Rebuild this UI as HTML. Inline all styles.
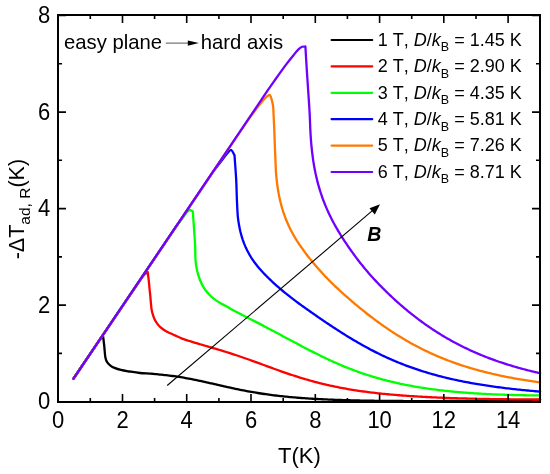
<!DOCTYPE html>
<html><head><meta charset="utf-8"><style>
html,body{margin:0;padding:0;background:#fff;}
svg{display:block;will-change:transform;}
text{font-family:"Liberation Sans",sans-serif;fill:#000;font-kerning:none;}
</style></head><body>
<svg width="550" height="474" viewBox="0 0 550 474">
<rect width="550" height="474" fill="#fff"/>
<path d="M73.50 378.60 C82.67 365.00 91.62 351.19 101.00 337.79 C101.49 337.09 102.40 336.80 103.10 336.30 C103.50 339.70 103.93 343.10 104.30 346.50 C104.70 350.16 104.72 353.91 105.40 357.50 C105.72 359.21 106.38 360.96 107.30 362.40 C108.14 363.72 109.44 364.84 110.70 365.80 C111.84 366.67 113.17 367.36 114.50 367.90 C116.53 368.72 118.66 369.39 120.80 369.90 C123.69 370.59 126.66 371.02 129.60 371.50 C133.06 372.06 136.52 372.65 140.00 373.00 C143.37 373.34 146.76 373.36 150.14 373.57 C150.68 373.61 151.21 373.69 151.75 373.74 C152.28 373.80 152.82 373.86 153.35 373.91 L154.96 374.07 L156.57 374.23 L158.18 374.39 L159.78 374.55 L161.39 374.71 L163.00 374.88 L164.60 375.05 L166.21 375.22 L167.82 375.41 L169.42 375.60 L171.03 375.80 L172.64 376.01 L174.24 376.23 L175.85 376.45 L177.46 376.69 L179.06 376.94 L180.67 377.20 L182.28 377.46 L183.88 377.74 L185.49 378.03 L187.10 378.32 L188.70 378.62 L190.31 378.93 L191.92 379.24 L193.52 379.56 L195.13 379.88 L196.74 380.21 L198.35 380.55 L199.95 380.88 L201.56 381.23 L203.17 381.58 L204.77 381.93 L206.38 382.29 L207.99 382.65 L209.59 383.01 L211.20 383.37 L212.81 383.74 L214.41 384.10 L216.02 384.47 L217.63 384.84 L219.23 385.21 L220.84 385.57 L222.45 385.94 L224.05 386.30 L225.66 386.67 L227.27 387.03 L228.87 387.38 L230.48 387.74 L232.09 388.09 L233.69 388.43 L235.30 388.78 L236.91 389.11 L238.52 389.45 L240.12 389.77 L241.73 390.10 L243.34 390.41 L244.94 390.73 L246.55 391.03 L248.16 391.33 L249.76 391.63 L251.37 391.91 L252.98 392.20 L254.58 392.47 L256.19 392.74 L257.80 393.00 L259.40 393.26 L261.01 393.51 L262.62 393.76 L264.22 394.00 L265.83 394.23 L267.44 394.46 L269.04 394.68 L270.65 394.89 L272.26 395.10 L273.86 395.30 L275.47 395.50 L277.08 395.69 L278.69 395.88 L280.29 396.06 L281.90 396.23 L283.51 396.41 L285.11 396.57 L286.72 396.73 L288.33 396.89 L289.93 397.04 L291.54 397.19 L293.15 397.33 L294.75 397.47 L296.36 397.60 L297.97 397.73 L299.57 397.86 L301.18 397.98 L302.79 398.10 L304.39 398.21 L306.00 398.32 L307.61 398.43 L309.21 398.53 L310.82 398.63 L312.43 398.73 L314.03 398.82 L315.64 398.91 L317.25 399.00 L318.86 399.09 L320.46 399.17 L322.07 399.25 L323.68 399.33 L325.28 399.40 L326.89 399.47 L328.50 399.54 L330.10 399.61 L331.71 399.68 L333.32 399.74 L334.92 399.80 L336.53 399.86 L338.14 399.92 L339.74 399.97 L341.35 400.02 L342.96 400.07 L344.56 400.12 L346.17 400.17 L347.78 400.22 L349.38 400.26 L350.99 400.30 L352.60 400.34 L354.20 400.38 L355.81 400.42 L357.42 400.46 L359.03 400.49 L360.63 400.53 L362.24 400.56 L363.85 400.59 L365.45 400.62 L367.06 400.65 L368.67 400.68 L370.27 400.70 L371.88 400.73 L373.49 400.75 L375.09 400.78 L376.70 400.80 L378.31 400.82 L379.91 400.84 L381.52 400.86 L383.13 400.87 L384.73 400.89 L386.34 400.91 L387.95 400.92 L389.55 400.94 L391.16 400.95 L392.77 400.96 L394.37 400.98 L395.98 400.99 L397.59 401.00 L399.20 401.01 L400.80 401.02 L402.41 401.02 L404.02 401.03 L405.62 401.04 L407.23 401.04 L408.84 401.05 L410.44 401.05 L412.05 401.06 L413.66 401.06 L415.26 401.06 L416.87 401.07 L418.48 401.07 L420.08 401.07 L421.69 401.07 L423.30 401.07 L424.90 401.07 L426.51 401.07 L428.12 401.07 L429.72 401.06 L431.33 401.06 L432.94 401.06 L434.54 401.06 L436.15 401.05 L437.76 401.05 L439.37 401.04 L440.97 401.04 L442.58 401.03 L444.19 401.02 L445.79 401.02 L447.40 401.01 L449.01 401.00 L450.61 400.99 L452.22 400.98 L453.83 400.98 L455.43 400.97 L457.04 400.96 L458.65 400.95 L460.25 400.93 L461.86 400.92 L463.47 400.91 L465.07 400.90 L466.68 400.89 L468.29 400.88 L469.89 400.86 L471.50 400.85 L473.11 400.84 L474.71 400.82 L476.32 400.81 L477.93 400.79 L479.54 400.78 L481.14 400.76 L482.75 400.75 L484.36 400.73 L485.96 400.71 L487.57 400.70 L489.18 400.68 L490.78 400.66 L492.39 400.65 L494.00 400.63 L495.60 400.61 L497.21 400.59 L498.82 400.57 L500.42 400.55 L502.03 400.53 L503.64 400.51 L505.24 400.49 L506.85 400.47 L508.46 400.45 L510.06 400.43 L511.67 400.41 L513.28 400.39 L514.88 400.37 L516.49 400.34 L518.10 400.32 L519.71 400.30 L521.31 400.28 L522.92 400.25 L524.53 400.23 L526.13 400.21 L527.74 400.18 L529.35 400.16 L530.95 400.13 L532.56 400.11 L534.17 400.08 L535.77 400.06 L537.38 400.03 L538.99 400.01 L540.11 399.99" stroke="#000000" stroke-width="2.3" fill="none" stroke-linejoin="round" stroke-linecap="round"/>
<path d="M73.50 378.60 C95.67 345.84 117.71 312.99 140.00 280.31 C141.38 278.29 142.85 276.29 144.50 274.50 C145.41 273.51 146.63 272.83 147.70 272.00 C148.03 274.67 148.41 277.33 148.70 280.00 C149.01 282.80 149.22 285.60 149.50 288.40 C149.75 290.93 150.06 293.46 150.30 296.00 C150.59 299.03 150.80 302.07 151.10 305.10 C151.27 306.77 151.39 308.45 151.70 310.10 C152.02 311.82 152.46 313.53 153.00 315.20 C153.46 316.63 154.03 318.05 154.70 319.40 C155.43 320.85 156.24 322.29 157.20 323.60 C158.20 324.96 159.34 326.28 160.60 327.40 C162.00 328.65 163.59 329.72 165.20 330.70 C166.83 331.69 168.58 332.48 170.30 333.30 C171.85 334.04 173.43 334.70 175.00 335.40 C177.37 336.46 179.73 337.56 182.12 338.59 C182.59 338.79 183.08 338.93 183.56 339.10 C184.04 339.27 184.53 339.43 185.01 339.60 L186.45 340.08 L187.90 340.55 L189.35 341.02 L190.79 341.47 L192.24 341.91 L193.69 342.35 L195.13 342.79 L196.58 343.22 L198.02 343.64 L199.47 344.07 L200.92 344.49 L202.36 344.91 L203.81 345.33 L205.25 345.75 L206.70 346.17 L208.15 346.59 L209.59 347.01 L211.04 347.43 L212.48 347.85 L213.93 348.28 L215.38 348.70 L216.82 349.13 L218.27 349.56 L219.72 350.00 L221.16 350.44 L222.61 350.88 L224.05 351.32 L225.50 351.77 L226.95 352.23 L228.39 352.68 L229.84 353.15 L231.28 353.61 L232.73 354.08 L234.18 354.56 L235.62 355.03 L237.07 355.52 L238.52 356.00 L239.96 356.49 L241.41 356.99 L242.85 357.49 L244.30 357.99 L245.75 358.49 L247.19 359.00 L248.64 359.51 L250.08 360.03 L251.53 360.55 L252.98 361.07 L254.42 361.59 L255.87 362.11 L257.31 362.64 L258.76 363.17 L260.21 363.70 L261.65 364.23 L263.10 364.76 L264.55 365.29 L265.99 365.82 L267.44 366.35 L268.88 366.88 L270.33 367.40 L271.78 367.93 L273.22 368.46 L274.67 368.98 L276.11 369.50 L277.56 370.02 L279.01 370.54 L280.45 371.05 L281.90 371.56 L283.34 372.07 L284.79 372.57 L286.24 373.07 L287.68 373.56 L289.13 374.05 L290.58 374.54 L292.02 375.02 L293.47 375.49 L294.91 375.96 L296.36 376.43 L297.81 376.89 L299.25 377.34 L300.70 377.79 L302.14 378.23 L303.59 378.67 L305.04 379.10 L306.48 379.52 L307.93 379.94 L309.37 380.35 L310.82 380.76 L312.27 381.16 L313.87 381.59 L315.48 382.02 L317.09 382.44 L318.69 382.86 L320.30 383.26 L321.91 383.66 L323.51 384.05 L325.12 384.43 L326.73 384.80 L328.34 385.17 L329.94 385.53 L331.55 385.88 L333.16 386.23 L334.76 386.56 L336.37 386.89 L337.98 387.22 L339.58 387.53 L341.19 387.84 L342.80 388.14 L344.40 388.44 L346.01 388.73 L347.62 389.01 L349.22 389.28 L350.83 389.55 L352.44 389.82 L354.04 390.07 L355.65 390.32 L357.26 390.57 L358.86 390.81 L360.47 391.04 L362.08 391.27 L363.68 391.49 L365.29 391.71 L366.90 391.92 L368.51 392.13 L370.11 392.33 L371.72 392.53 L373.33 392.72 L374.93 392.91 L376.54 393.09 L378.15 393.27 L379.75 393.45 L381.36 393.62 L382.97 393.78 L384.57 393.95 L386.18 394.10 L387.79 394.26 L389.39 394.41 L391.00 394.56 L392.61 394.70 L394.21 394.84 L395.82 394.97 L397.43 395.11 L399.03 395.24 L400.64 395.36 L402.25 395.49 L403.85 395.61 L405.46 395.72 L407.07 395.84 L408.68 395.95 L410.28 396.06 L411.89 396.16 L413.50 396.27 L415.10 396.37 L416.71 396.46 L418.32 396.56 L419.92 396.65 L421.53 396.74 L423.14 396.83 L424.74 396.92 L426.35 397.00 L427.96 397.08 L429.56 397.16 L431.17 397.24 L432.78 397.32 L434.38 397.39 L435.99 397.46 L437.60 397.53 L439.20 397.60 L440.81 397.67 L442.42 397.73 L444.02 397.79 L445.63 397.85 L447.24 397.91 L448.85 397.97 L450.45 398.03 L452.06 398.08 L453.67 398.14 L455.27 398.19 L456.88 398.24 L458.49 398.29 L460.09 398.34 L461.70 398.38 L463.31 398.43 L464.91 398.47 L466.52 398.51 L468.13 398.56 L469.73 398.60 L471.34 398.64 L472.95 398.67 L474.55 398.71 L476.16 398.75 L477.77 398.78 L479.37 398.82 L480.98 398.85 L482.59 398.88 L484.19 398.91 L485.80 398.94 L487.41 398.97 L489.02 399.00 L490.62 399.03 L492.23 399.05 L493.84 399.08 L495.44 399.10 L497.05 399.13 L498.66 399.15 L500.26 399.17 L501.87 399.19 L503.48 399.21 L505.08 399.23 L506.69 399.25 L508.30 399.27 L509.90 399.29 L511.51 399.31 L513.12 399.32 L514.72 399.34 L516.33 399.36 L517.94 399.37 L519.54 399.38 L521.15 399.40 L522.76 399.41 L524.36 399.42 L525.97 399.43 L527.58 399.45 L529.19 399.46 L530.79 399.47 L532.40 399.48 L534.01 399.49 L535.61 399.49 L537.22 399.50 L538.83 399.51 L540.11 399.52" stroke="#ff0000" stroke-width="2.3" fill="none" stroke-linejoin="round" stroke-linecap="round"/>
<path d="M73.50 378.60 C107.67 327.90 141.65 277.06 176.00 226.49 C177.79 223.86 179.97 221.53 181.90 219.00 C183.61 216.76 185.10 214.34 186.90 212.20 C187.63 211.34 188.54 210.13 189.50 210.00 C190.51 209.86 191.70 210.93 192.80 211.40 C193.57 222.60 194.47 233.79 195.10 245.00 C195.34 249.23 195.19 253.47 195.40 257.70 C195.53 260.24 195.73 262.79 196.10 265.30 C196.46 267.75 196.96 270.20 197.60 272.60 C198.29 275.17 199.08 277.74 200.10 280.20 C201.15 282.74 202.34 285.28 203.80 287.60 C205.27 289.94 207.01 292.18 208.90 294.20 C210.84 296.28 213.04 298.17 215.30 299.90 C217.24 301.37 219.39 302.58 221.50 303.80 C223.64 305.03 225.89 306.08 228.07 307.26 C228.51 307.49 228.93 307.78 229.36 308.04 C229.84 308.33 230.32 308.61 230.80 308.90 L232.25 309.72 L233.69 310.53 L235.14 311.32 L236.59 312.09 L238.03 312.84 L239.48 313.59 L240.93 314.33 L242.37 315.06 L243.82 315.79 L245.26 316.52 L246.71 317.24 L248.16 317.97 L249.60 318.70 L251.05 319.43 L252.49 320.16 L253.94 320.89 L255.39 321.63 L256.83 322.38 L258.28 323.12 L259.72 323.88 L261.17 324.63 L262.62 325.39 L264.06 326.16 L265.51 326.92 L266.96 327.69 L268.40 328.45 L269.85 329.22 L271.29 329.98 L272.74 330.75 L274.19 331.52 L275.63 332.28 L277.08 333.05 L278.52 333.82 L279.97 334.59 L281.42 335.37 L282.86 336.14 L284.31 336.91 L285.76 337.68 L287.20 338.45 L288.65 339.23 L290.09 340.00 L291.54 340.77 L292.99 341.54 L294.43 342.31 L295.88 343.08 L297.32 343.85 L298.77 344.61 L300.22 345.37 L301.66 346.14 L303.11 346.90 L304.55 347.65 L306.00 348.41 L307.45 349.16 L308.89 349.90 L310.34 350.65 L311.79 351.38 L313.23 352.12 L314.68 352.85 L316.12 353.58 L317.57 354.30 L319.02 355.01 L320.46 355.72 L321.91 356.43 L323.35 357.13 L324.80 357.82 L326.25 358.51 L327.69 359.19 L329.14 359.86 L330.58 360.53 L332.03 361.19 L333.48 361.84 L334.92 362.49 L336.37 363.13 L337.82 363.76 L339.26 364.39 L340.71 365.00 L342.15 365.61 L343.60 366.22 L345.05 366.81 L346.49 367.40 L347.94 367.97 L349.38 368.54 L350.83 369.11 L352.28 369.66 L353.72 370.21 L355.17 370.75 L356.61 371.28 L358.06 371.80 L359.51 372.31 L360.95 372.82 L362.40 373.32 L363.85 373.81 L365.29 374.29 L366.74 374.77 L368.18 375.24 L369.63 375.70 L371.08 376.15 L372.52 376.59 L373.97 377.03 L375.41 377.46 L376.86 377.88 L378.31 378.29 L379.75 378.70 L381.20 379.10 L382.81 379.54 L384.41 379.96 L386.02 380.38 L387.63 380.79 L389.23 381.19 L390.84 381.58 L392.45 381.97 L394.05 382.35 L395.66 382.72 L397.27 383.08 L398.87 383.43 L400.48 383.78 L402.09 384.11 L403.69 384.44 L405.30 384.77 L406.91 385.08 L408.51 385.39 L410.12 385.70 L411.73 385.99 L413.33 386.28 L414.94 386.56 L416.55 386.84 L418.16 387.11 L419.76 387.37 L421.37 387.63 L422.98 387.88 L424.58 388.12 L426.19 388.36 L427.80 388.60 L429.40 388.83 L431.01 389.05 L432.62 389.27 L434.22 389.48 L435.83 389.68 L437.44 389.89 L439.04 390.08 L440.65 390.27 L442.26 390.46 L443.86 390.64 L445.47 390.82 L447.08 390.99 L448.68 391.16 L450.29 391.33 L451.90 391.49 L453.50 391.64 L455.11 391.79 L456.72 391.94 L458.33 392.08 L459.93 392.22 L461.54 392.36 L463.15 392.49 L464.75 392.62 L466.36 392.74 L467.97 392.86 L469.57 392.98 L471.18 393.09 L472.79 393.20 L474.39 393.31 L476.00 393.41 L477.61 393.51 L479.21 393.61 L480.82 393.70 L482.43 393.79 L484.03 393.88 L485.64 393.97 L487.25 394.05 L488.85 394.13 L490.46 394.20 L492.07 394.28 L493.67 394.35 L495.28 394.42 L496.89 394.48 L498.50 394.55 L500.10 394.61 L501.71 394.67 L503.32 394.72 L504.92 394.77 L506.53 394.82 L508.14 394.87 L509.74 394.92 L511.35 394.96 L512.96 395.01 L514.56 395.05 L516.17 395.08 L517.78 395.12 L519.38 395.15 L520.99 395.18 L522.60 395.21 L524.20 395.24 L525.81 395.26 L527.42 395.29 L529.02 395.31 L530.63 395.33 L532.24 395.35 L533.84 395.36 L535.45 395.38 L537.06 395.39 L538.67 395.40 L540.11 395.41" stroke="#00ff00" stroke-width="2.3" fill="none" stroke-linejoin="round" stroke-linecap="round"/>
<path d="M73.50 378.60 C119.67 310.19 165.78 241.74 212.00 173.37 C212.98 171.91 214.04 170.50 215.10 169.10 C217.34 166.15 219.63 163.23 221.90 160.30 C223.86 157.76 225.66 155.07 227.80 152.70 C228.76 151.63 230.28 149.66 231.20 150.00 C232.51 150.49 233.40 153.47 234.50 155.20 C235.07 163.47 235.76 171.73 236.20 180.00 C236.56 186.66 236.62 193.34 236.90 200.00 C237.12 205.22 237.39 210.44 237.71 215.66 C237.77 216.58 237.92 217.49 238.03 218.40 C238.13 219.19 238.25 219.99 238.35 220.78 L238.68 222.90 L239.00 224.81 L239.32 226.56 L239.64 228.18 L239.96 229.68 L240.44 231.76 L240.93 233.67 L241.41 235.43 L241.89 237.07 L242.37 238.60 L242.85 240.05 L243.50 241.86 L244.14 243.56 L244.78 245.15 L245.42 246.65 L246.07 248.08 L246.71 249.44 L247.51 251.05 L248.32 252.58 L249.12 254.03 L249.92 255.42 L250.73 256.75 L251.53 258.02 L252.49 259.49 L253.46 260.90 L254.42 262.25 L255.39 263.55 L256.35 264.80 L257.31 266.02 L258.28 267.20 L259.40 268.53 L260.53 269.82 L261.65 271.07 L262.78 272.29 L263.90 273.48 L265.03 274.65 L266.15 275.79 L267.28 276.92 L268.40 278.03 L269.53 279.12 L270.65 280.20 L271.78 281.26 L272.90 282.30 L274.03 283.33 L275.15 284.35 L276.27 285.36 L277.40 286.35 L278.69 287.47 L279.97 288.58 L281.26 289.67 L282.54 290.75 L283.83 291.82 L285.11 292.87 L286.40 293.91 L287.68 294.94 L288.97 295.96 L290.25 296.96 L291.54 297.96 L292.82 298.94 L294.11 299.91 L295.40 300.87 L296.68 301.82 L297.97 302.76 L299.25 303.70 L300.54 304.63 L301.82 305.56 L303.11 306.49 L304.39 307.41 L305.68 308.33 L306.96 309.24 L308.25 310.16 L309.54 311.06 L310.82 311.97 L312.11 312.87 L313.39 313.77 L314.68 314.67 L315.96 315.56 L317.25 316.45 L318.53 317.34 L319.82 318.23 L321.10 319.11 L322.39 319.99 L323.68 320.86 L324.96 321.73 L326.25 322.60 L327.53 323.46 L328.82 324.32 L330.10 325.18 L331.39 326.03 L332.67 326.88 L333.96 327.73 L335.24 328.57 L336.53 329.40 L337.82 330.24 L339.10 331.06 L340.39 331.88 L341.67 332.70 L342.96 333.51 L344.24 334.32 L345.53 335.12 L346.81 335.92 L348.10 336.71 L349.38 337.49 L350.67 338.27 L351.96 339.05 L353.40 339.91 L354.85 340.77 L356.29 341.61 L357.74 342.45 L359.19 343.28 L360.63 344.11 L362.08 344.92 L363.52 345.73 L364.97 346.53 L366.42 347.32 L367.86 348.10 L369.31 348.87 L370.75 349.64 L372.20 350.39 L373.65 351.14 L375.09 351.88 L376.54 352.60 L377.99 353.32 L379.43 354.03 L380.88 354.74 L382.32 355.43 L383.77 356.11 L385.22 356.79 L386.66 357.45 L388.11 358.11 L389.55 358.76 L391.00 359.40 L392.45 360.03 L393.89 360.65 L395.34 361.26 L396.78 361.86 L398.23 362.46 L399.68 363.05 L401.12 363.62 L402.57 364.19 L404.02 364.75 L405.46 365.31 L406.91 365.85 L408.35 366.39 L409.80 366.91 L411.25 367.43 L412.69 367.95 L414.14 368.45 L415.58 368.95 L417.03 369.43 L418.48 369.92 L419.92 370.39 L421.37 370.85 L422.82 371.31 L424.26 371.76 L425.71 372.21 L427.15 372.64 L428.60 373.07 L430.05 373.50 L431.49 373.91 L432.94 374.32 L434.38 374.72 L435.99 375.16 L437.60 375.60 L439.20 376.02 L440.81 376.44 L442.42 376.84 L444.02 377.25 L445.63 377.64 L447.24 378.03 L448.85 378.41 L450.45 378.78 L452.06 379.14 L453.67 379.50 L455.27 379.85 L456.88 380.20 L458.49 380.54 L460.09 380.87 L461.70 381.20 L463.31 381.52 L464.91 381.84 L466.52 382.15 L468.13 382.45 L469.73 382.75 L471.34 383.04 L472.95 383.33 L474.55 383.61 L476.16 383.89 L477.77 384.16 L479.37 384.42 L480.98 384.68 L482.59 384.94 L484.19 385.19 L485.80 385.44 L487.41 385.68 L489.02 385.92 L490.62 386.16 L492.23 386.38 L493.84 386.61 L495.44 386.83 L497.05 387.05 L498.66 387.26 L500.26 387.47 L501.87 387.68 L503.48 387.88 L505.08 388.08 L506.69 388.27 L508.30 388.46 L509.90 388.65 L511.51 388.83 L513.12 389.02 L514.72 389.19 L516.33 389.37 L517.94 389.54 L519.54 389.71 L521.15 389.87 L522.76 390.03 L524.36 390.19 L525.97 390.35 L527.58 390.50 L529.19 390.65 L530.79 390.80 L532.40 390.95 L534.01 391.09 L535.61 391.23 L537.22 391.37 L538.83 391.51 L540.11 391.61" stroke="#0000ff" stroke-width="2.3" fill="none" stroke-linejoin="round" stroke-linecap="round"/>
<path d="M73.50 378.60 C131.67 292.45 189.67 206.18 248.00 120.14 C250.87 115.91 254.00 111.87 257.10 107.80 C258.94 105.39 260.83 103.01 262.80 100.70 C263.96 99.34 265.12 97.91 266.50 96.80 C267.49 96.01 269.24 94.40 269.90 95.00 C271.18 96.17 271.63 99.70 272.30 102.10 C272.73 103.63 272.90 105.23 273.20 106.80 C273.57 114.53 273.98 122.26 274.30 130.00 C274.58 136.66 274.74 143.33 275.00 150.00 C275.29 157.37 275.61 164.74 275.95 172.11 C275.98 172.77 276.06 173.44 276.11 174.10 C276.17 174.71 276.22 175.32 276.27 175.93 L276.44 177.62 L276.60 179.19 L276.92 182.04 L277.24 184.60 L277.56 186.92 L277.88 189.05 L278.20 191.02 L278.52 192.86 L278.85 194.59 L279.17 196.22 L279.49 197.77 L279.81 199.24 L280.29 201.32 L280.77 203.27 L281.26 205.12 L281.74 206.86 L282.22 208.52 L282.70 210.11 L283.18 211.62 L283.67 213.08 L284.31 214.93 L284.95 216.70 L285.59 218.39 L286.24 220.01 L286.88 221.56 L287.52 223.06 L288.17 224.51 L288.81 225.91 L289.45 227.27 L290.25 228.91 L291.06 230.49 L291.86 232.02 L292.66 233.51 L293.47 234.95 L294.27 236.35 L295.07 237.71 L295.88 239.04 L296.68 240.33 L297.48 241.60 L298.45 243.09 L299.41 244.53 L300.38 245.95 L301.34 247.33 L302.31 248.70 L303.27 250.04 L304.23 251.36 L305.20 252.66 L306.16 253.94 L307.13 255.20 L308.09 256.45 L309.05 257.68 L310.02 258.89 L310.98 260.09 L311.95 261.28 L312.91 262.45 L313.87 263.60 L315.00 264.94 L316.12 266.25 L317.25 267.55 L318.37 268.84 L319.50 270.10 L320.62 271.35 L321.75 272.59 L322.87 273.81 L324.00 275.02 L325.12 276.21 L326.25 277.39 L327.37 278.55 L328.50 279.70 L329.62 280.83 L330.75 281.95 L331.87 283.06 L332.99 284.16 L334.12 285.24 L335.24 286.31 L336.37 287.37 L337.49 288.42 L338.62 289.46 L339.74 290.50 L340.87 291.53 L341.99 292.56 L343.12 293.57 L344.24 294.58 L345.37 295.59 L346.49 296.59 L347.78 297.72 L349.06 298.84 L350.35 299.96 L351.63 301.07 L352.92 302.17 L354.20 303.26 L355.49 304.34 L356.78 305.42 L358.06 306.49 L359.35 307.55 L360.63 308.60 L361.92 309.64 L363.20 310.68 L364.49 311.71 L365.77 312.73 L367.06 313.74 L368.34 314.74 L369.63 315.74 L370.92 316.72 L372.20 317.70 L373.49 318.67 L374.77 319.63 L376.06 320.59 L377.34 321.53 L378.63 322.47 L379.91 323.40 L381.20 324.32 L382.48 325.23 L383.77 326.13 L385.06 327.02 L386.34 327.91 L387.63 328.78 L388.91 329.65 L390.20 330.51 L391.48 331.36 L392.77 332.20 L394.05 333.04 L395.34 333.86 L396.62 334.67 L397.91 335.48 L399.20 336.28 L400.48 337.07 L401.77 337.85 L403.21 338.72 L404.66 339.57 L406.10 340.42 L407.55 341.25 L409.00 342.08 L410.44 342.89 L411.89 343.69 L413.33 344.48 L414.78 345.26 L416.23 346.03 L417.67 346.79 L419.12 347.54 L420.57 348.28 L422.01 349.01 L423.46 349.73 L424.90 350.44 L426.35 351.13 L427.80 351.82 L429.24 352.50 L430.69 353.17 L432.13 353.83 L433.58 354.47 L435.03 355.11 L436.47 355.74 L437.92 356.36 L439.37 356.97 L440.81 357.57 L442.26 358.17 L443.70 358.75 L445.15 359.32 L446.60 359.89 L448.04 360.45 L449.49 361.00 L450.93 361.54 L452.38 362.07 L453.83 362.59 L455.27 363.11 L456.72 363.61 L458.16 364.11 L459.61 364.60 L461.06 365.09 L462.50 365.56 L463.95 366.03 L465.40 366.49 L466.84 366.94 L468.29 367.39 L469.73 367.83 L471.18 368.26 L472.63 368.69 L474.07 369.10 L475.52 369.52 L476.96 369.92 L478.57 370.36 L480.18 370.80 L481.78 371.22 L483.39 371.64 L485.00 372.05 L486.61 372.46 L488.21 372.85 L489.82 373.24 L491.43 373.62 L493.03 374.00 L494.64 374.37 L496.25 374.73 L497.85 375.08 L499.46 375.43 L501.07 375.77 L502.67 376.11 L504.28 376.44 L505.89 376.76 L507.49 377.08 L509.10 377.39 L510.71 377.69 L512.31 377.99 L513.92 378.29 L515.53 378.58 L517.13 378.86 L518.74 379.14 L520.35 379.41 L521.95 379.68 L523.56 379.94 L525.17 380.20 L526.78 380.45 L528.38 380.70 L529.99 380.94 L531.60 381.18 L533.20 381.42 L534.81 381.65 L536.42 381.87 L538.02 382.09 L539.63 382.31 L540.11 382.38" stroke="#ff7800" stroke-width="2.3" fill="none" stroke-linejoin="round" stroke-linecap="round"/>
<path d="M73.50 378.60 C138.33 282.39 203.11 186.13 268.00 89.96 C270.61 86.10 273.32 82.30 276.00 78.49 C277.98 75.68 279.98 72.87 282.00 70.09 C283.58 67.91 285.16 65.73 286.80 63.60 C288.99 60.77 291.24 57.98 293.50 55.20 C295.04 53.31 296.48 51.30 298.20 49.60 C299.31 48.50 300.61 47.40 302.00 46.80 C303.01 46.37 304.27 46.60 305.40 46.50 C305.87 54.33 306.30 62.17 306.80 70.00 C307.34 78.44 307.95 86.87 308.50 95.30 C308.91 101.63 309.37 107.96 309.70 114.30 C309.98 119.57 310.11 124.84 310.34 130.11 C310.38 131.09 310.44 132.07 310.50 133.05 C310.55 133.93 310.61 134.80 310.66 135.68 L310.82 138.06 L310.98 140.24 L311.14 142.25 L311.30 144.13 L311.46 145.89 L311.62 147.55 L311.79 149.12 L311.95 150.62 L312.27 153.40 L312.59 155.96 L312.91 158.34 L313.23 160.55 L313.55 162.64 L313.87 164.60 L314.20 166.47 L314.52 168.25 L314.84 169.94 L315.16 171.57 L315.48 173.13 L315.80 174.63 L316.28 176.79 L316.77 178.83 L317.25 180.79 L317.73 182.66 L318.21 184.45 L318.69 186.18 L319.18 187.85 L319.66 189.45 L320.14 191.01 L320.62 192.52 L321.10 193.98 L321.59 195.41 L322.23 197.25 L322.87 199.02 L323.51 200.74 L324.16 202.41 L324.80 204.03 L325.44 205.61 L326.09 207.14 L326.73 208.64 L327.37 210.10 L328.01 211.52 L328.66 212.92 L329.30 214.28 L330.10 215.95 L330.91 217.58 L331.71 219.17 L332.51 220.73 L333.32 222.25 L334.12 223.74 L334.92 225.20 L335.73 226.63 L336.53 228.04 L337.33 229.43 L338.14 230.79 L338.94 232.13 L339.74 233.45 L340.55 234.75 L341.35 236.03 L342.15 237.30 L343.12 238.81 L344.08 240.30 L345.05 241.77 L346.01 243.22 L346.97 244.66 L347.94 246.08 L348.90 247.48 L349.87 248.87 L350.83 250.24 L351.79 251.60 L352.76 252.94 L353.72 254.27 L354.69 255.59 L355.65 256.88 L356.61 258.17 L357.58 259.44 L358.54 260.70 L359.51 261.94 L360.47 263.17 L361.44 264.39 L362.40 265.59 L363.36 266.78 L364.33 267.95 L365.29 269.12 L366.26 270.27 L367.38 271.59 L368.51 272.90 L369.63 274.19 L370.75 275.46 L371.88 276.72 L373.00 277.96 L374.13 279.18 L375.25 280.39 L376.38 281.59 L377.50 282.77 L378.63 283.94 L379.75 285.11 L380.88 286.26 L382.00 287.40 L383.13 288.53 L384.25 289.65 L385.38 290.77 L386.50 291.87 L387.63 292.96 L388.75 294.04 L389.88 295.12 L391.00 296.18 L392.13 297.24 L393.25 298.28 L394.37 299.32 L395.50 300.34 L396.62 301.36 L397.75 302.37 L398.87 303.37 L400.16 304.50 L401.44 305.62 L402.73 306.73 L404.02 307.82 L405.30 308.91 L406.59 309.98 L407.87 311.04 L409.16 312.09 L410.44 313.13 L411.73 314.16 L413.01 315.18 L414.30 316.18 L415.58 317.18 L416.87 318.16 L418.16 319.13 L419.44 320.10 L420.73 321.05 L422.01 321.99 L423.30 322.92 L424.58 323.84 L425.87 324.75 L427.15 325.65 L428.44 326.54 L429.72 327.41 L431.01 328.28 L432.30 329.14 L433.58 329.99 L434.87 330.83 L436.15 331.65 L437.44 332.47 L438.72 333.28 L440.01 334.08 L441.29 334.87 L442.58 335.65 L444.02 336.51 L445.47 337.37 L446.92 338.21 L448.36 339.04 L449.81 339.86 L451.26 340.66 L452.70 341.46 L454.15 342.25 L455.59 343.02 L457.04 343.78 L458.49 344.54 L459.93 345.28 L461.38 346.01 L462.82 346.73 L464.27 347.44 L465.72 348.14 L467.16 348.83 L468.61 349.51 L470.05 350.18 L471.50 350.84 L472.95 351.49 L474.39 352.14 L475.84 352.77 L477.29 353.39 L478.73 354.01 L480.18 354.61 L481.62 355.21 L483.07 355.80 L484.52 356.38 L485.96 356.95 L487.41 357.51 L488.85 358.07 L490.30 358.61 L491.75 359.15 L493.19 359.68 L494.64 360.20 L496.09 360.72 L497.53 361.22 L498.98 361.72 L500.42 362.22 L501.87 362.70 L503.32 363.18 L504.76 363.65 L506.21 364.12 L507.65 364.57 L509.10 365.02 L510.55 365.47 L511.99 365.90 L513.44 366.33 L514.88 366.76 L516.33 367.18 L517.78 367.59 L519.22 368.00 L520.67 368.40 L522.28 368.83 L523.88 369.26 L525.49 369.69 L527.10 370.10 L528.70 370.51 L530.31 370.92 L531.92 371.31 L533.52 371.70 L535.13 372.09 L536.74 372.46 L538.34 372.83 L539.95 373.20 L540.11 373.24" stroke="#7000ff" stroke-width="2.3" fill="none" stroke-linejoin="round" stroke-linecap="round"/>
<path d="M167.2 385.5L376.5 207.2" stroke="#000" stroke-width="1.1" fill="none"/>
<path d="M380 204.3L369.5 208.2L374.8 214.5Z" fill="#000"/>
<text x="367.3" y="240.6" font-size="19.5" font-weight="bold" font-style="italic">B</text>
<rect x="58.0" y="15.0" width="482.0" height="387.0" fill="none" stroke="#000" stroke-width="2"/>
<path d="M58.2 402.0V394.0 M58.2 15.0V23.0 M90.3 402.0V398.0 M90.3 15.0V19.0 M122.5 402.0V394.0 M122.5 15.0V23.0 M154.6 402.0V398.0 M154.6 15.0V19.0 M186.7 402.0V394.0 M186.7 15.0V23.0 M218.9 402.0V398.0 M218.9 15.0V19.0 M251.0 402.0V394.0 M251.0 15.0V23.0 M283.2 402.0V398.0 M283.2 15.0V19.0 M315.3 402.0V394.0 M315.3 15.0V23.0 M347.4 402.0V398.0 M347.4 15.0V19.0 M379.6 402.0V394.0 M379.6 15.0V23.0 M411.7 402.0V398.0 M411.7 15.0V19.0 M443.8 402.0V394.0 M443.8 15.0V23.0 M476.0 402.0V398.0 M476.0 15.0V19.0 M508.1 402.0V394.0 M508.1 15.0V23.0 M540.2 402.0V398.0 M540.2 15.0V19.0 M58.0 401.7H66.0 M540.0 401.7H532.0 M58.0 353.4H62.0 M540.0 353.4H536.0 M58.0 305.1H66.0 M540.0 305.1H532.0 M58.0 256.9H62.0 M540.0 256.9H536.0 M58.0 208.6H66.0 M540.0 208.6H532.0 M58.0 160.3H62.0 M540.0 160.3H536.0 M58.0 112.1H66.0 M540.0 112.1H532.0 M58.0 63.8H62.0 M540.0 63.8H536.0 M58.0 15.5H66.0 M540.0 15.5H532.0" stroke="#000" stroke-width="1.6" fill="none"/>
<g font-size="22"><text transform="translate(58.2 427.6) scale(1 1.07)" text-anchor="middle">0</text><text transform="translate(122.5 427.6) scale(1 1.07)" text-anchor="middle">2</text><text transform="translate(186.7 427.6) scale(1 1.07)" text-anchor="middle">4</text><text transform="translate(251.0 427.6) scale(1 1.07)" text-anchor="middle">6</text><text transform="translate(315.3 427.6) scale(1 1.07)" text-anchor="middle">8</text><text transform="translate(379.6 427.6) scale(1 1.07)" text-anchor="middle">10</text><text transform="translate(443.8 427.6) scale(1 1.07)" text-anchor="middle">12</text><text transform="translate(508.1 427.6) scale(1 1.07)" text-anchor="middle">14</text><text transform="translate(50.3 409.4) scale(1 1.07)" text-anchor="end">0</text><text transform="translate(50.3 312.8) scale(1 1.07)" text-anchor="end">2</text><text transform="translate(50.3 216.3) scale(1 1.07)" text-anchor="end">4</text><text transform="translate(50.3 119.8) scale(1 1.07)" text-anchor="end">6</text><text transform="translate(50.3 23.2) scale(1 1.07)" text-anchor="end">8</text></g>
<text x="278" y="462.8" font-size="22">T(K)</text>
<text transform="translate(24.4 209.1) rotate(-90)" text-anchor="middle" font-size="21.5">-ΔT<tspan font-size="15.5" dy="6">ad, R</tspan><tspan dy="-6">(K)</tspan></text>
<text x="64" y="48.5" font-size="20.3">easy plane</text>
<path d="M165.8 43.1H189" stroke="#555" stroke-width="1" fill="none"/>
<path d="M198.8 43.1L187.8 40.5L187.8 45.7Z" fill="#000"/>
<text x="200.8" y="48.5" font-size="20.3">hard axis</text>
<g font-size="18"><path d="M331.6 40.0H372.2" stroke="#000000" stroke-width="2.2" stroke-linecap="round"/>
<text x="377.8" y="45.8">1 T, <tspan font-style="italic">D</tspan>/<tspan font-style="italic">k</tspan><tspan font-size="12.5" dy="5.5">B</tspan><tspan dy="-5.5"> = 1.45 K</tspan></text>
<path d="M331.6 66.4H372.2" stroke="#ff0000" stroke-width="2.2" stroke-linecap="round"/>
<text x="377.8" y="72.2">2 T, <tspan font-style="italic">D</tspan>/<tspan font-style="italic">k</tspan><tspan font-size="12.5" dy="5.5">B</tspan><tspan dy="-5.5"> = 2.90 K</tspan></text>
<path d="M331.6 92.8H372.2" stroke="#00ff00" stroke-width="2.2" stroke-linecap="round"/>
<text x="377.8" y="98.6">3 T, <tspan font-style="italic">D</tspan>/<tspan font-style="italic">k</tspan><tspan font-size="12.5" dy="5.5">B</tspan><tspan dy="-5.5"> = 4.35 K</tspan></text>
<path d="M331.6 119.2H372.2" stroke="#0000ff" stroke-width="2.2" stroke-linecap="round"/>
<text x="377.8" y="125.0">4 T, <tspan font-style="italic">D</tspan>/<tspan font-style="italic">k</tspan><tspan font-size="12.5" dy="5.5">B</tspan><tspan dy="-5.5"> = 5.81 K</tspan></text>
<path d="M331.6 145.6H372.2" stroke="#ff7800" stroke-width="2.2" stroke-linecap="round"/>
<text x="377.8" y="151.4">5 T, <tspan font-style="italic">D</tspan>/<tspan font-style="italic">k</tspan><tspan font-size="12.5" dy="5.5">B</tspan><tspan dy="-5.5"> = 7.26 K</tspan></text>
<path d="M331.6 172.0H372.2" stroke="#7000ff" stroke-width="2.2" stroke-linecap="round"/>
<text x="377.8" y="177.8">6 T, <tspan font-style="italic">D</tspan>/<tspan font-style="italic">k</tspan><tspan font-size="12.5" dy="5.5">B</tspan><tspan dy="-5.5"> = 8.71 K</tspan></text></g>
</svg>
</body></html>
